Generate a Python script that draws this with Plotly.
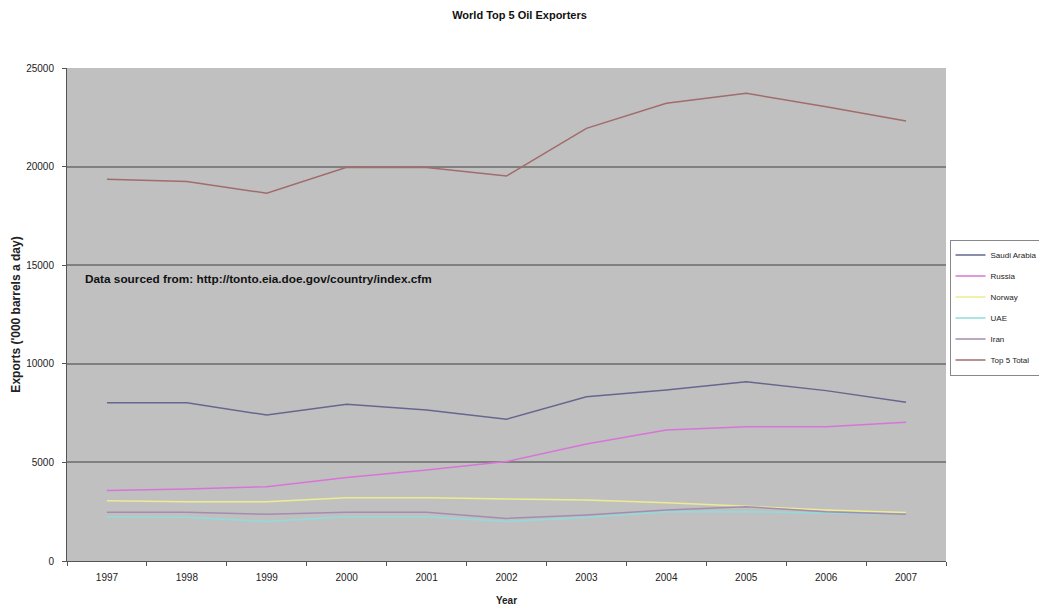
import plotly.graph_objects as go

years = ["1997", "1998", "1999", "2000", "2001", "2002", "2003", "2004", "2005", "2006", "2007"]
saudi_arabia = [8030, 8030, 7400, 7950, 7660, 7190, 8330, 8670, 9090, 8640, 8050]
russia = [3570, 3650, 3770, 4240, 4620, 5040, 5930, 6640, 6810, 6810, 7030]
norway = [3060, 3010, 3010, 3210, 3210, 3160, 3090, 2960, 2790, 2590, 2460]
uae = [2250, 2220, 2000, 2250, 2250, 2000, 2200, 2500, 2500, 2420, 2370]
iran = [2470, 2470, 2370, 2470, 2470, 2160, 2330, 2590, 2750, 2500, 2370]
top5_total = [19360, 19240, 18650, 19970, 19950, 19520, 21940, 23210, 23720, 23040, 22310]

series_names = ["Saudi Arabia", "Russia", "Norway", "UAE", "Iran", "Top 5 Total"]
series_values = [saudi_arabia, russia, norway, uae, iran, top5_total]
series_colors = ["#66668f", "#d874d8", "#ecec90", "#90dcdc", "#a48cb0", "#a06c6c"]

sans = "Liberation Sans, Arial, sans-serif"

fig = go.Figure()
for name, vals, col in zip(series_names, series_values, series_colors):
    fig.add_trace(go.Scatter(x=years, y=vals, mode="lines", name=name, legendgroup=name,
                             line=dict(color=col, width=1.5)))

fig.update_layout(
    width=1039, height=609,
    margin=dict(l=67, r=93, t=68, b=48, autoexpand=False),
    paper_bgcolor="white",
    plot_bgcolor="#c0c0c0",
    title=dict(text="<b>World Top 5 Oil Exporters</b>", x=0.5, xanchor="center", y=0.975, yanchor="middle",
               font=dict(family=sans, size=11, color="#111")),
    font=dict(family=sans, size=9, color="#222"),
    showlegend=True,
    legend=dict(x=1.004, xanchor="left", y=0.652, yanchor="top",
                bgcolor="white", bordercolor="#888", borderwidth=1,
                font=dict(family=sans, size=8, color="#222"),
                tracegroupgap=2, itemwidth=30),
    xaxis=dict(type="category", tickson="boundaries", ticks="outside", ticklen=4, tickcolor="#555",
               showline=True, linecolor="#555", linewidth=1, showgrid=False, ticklabelstandoff=7,
               title=dict(text="<b>Year</b>", font=dict(family=sans, size=10, color="#222"), standoff=14),
               tickfont=dict(family=sans, size=10, color="#222"), range=[-0.5, 10.5]),
    yaxis=dict(range=[0, 25000], dtick=5000, tickformat="d", ticks="outside", ticklen=4, tickcolor="#555",
               showline=True, linecolor="#555", linewidth=1, ticklabelstandoff=6,
               showgrid=True, gridcolor="#808080", gridwidth=1.5, zeroline=False,
               title=dict(text="<b>Exports ('000 barrels a day)</b>", font=dict(family=sans, size=12, color="#222"), standoff=2),
               tickfont=dict(family=sans, size=10, color="#222")),
    annotations=[dict(text="<b>Data sourced from: http://tonto.eia.doe.gov/country/index.cfm</b>",
                      xref="paper", yref="paper", x=0.018, y=0.571, xanchor="left", yanchor="middle",
                      showarrow=False, font=dict(family=sans, size=11.8, color="#111"))],
)

fig.write_html("out.html")
